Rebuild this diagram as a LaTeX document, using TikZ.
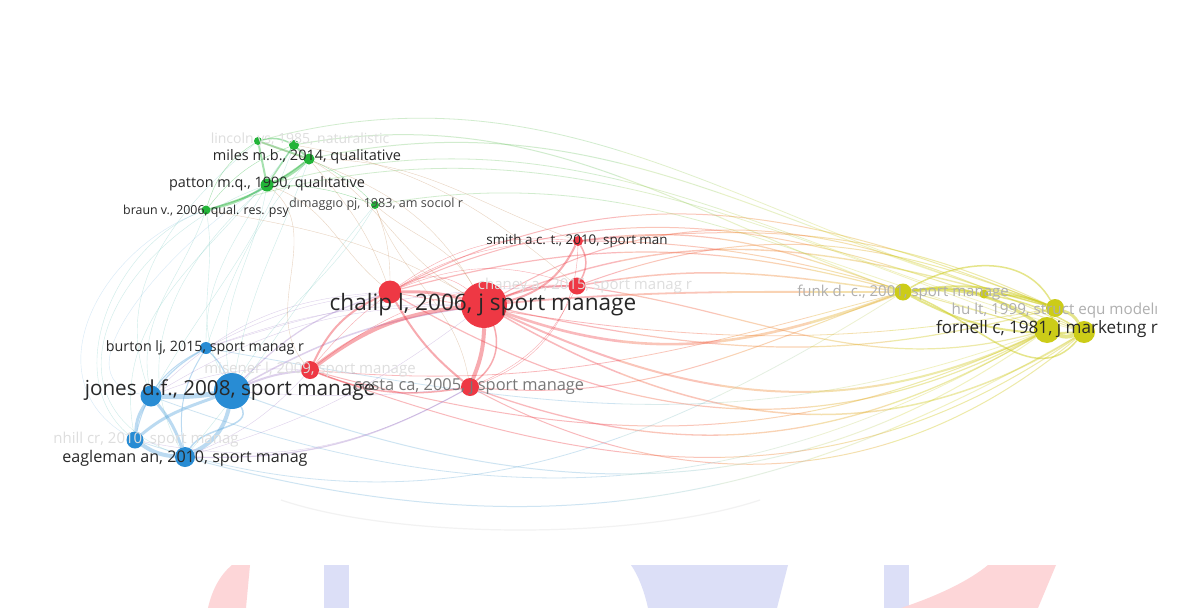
\documentclass[tikz,border=0pt]{standalone}
\usepackage{fontspec}
\setmainfont{Open Sans}
\definecolor{vred}{RGB}{238,56,68}
\definecolor{vblue}{RGB}{40,140,212}
\definecolor{vgreen}{RGB}{34,180,56}
\definecolor{vyel}{RGB}{204,204,24}
\definecolor{vpurple}{RGB}{150,110,195}
\definecolor{vteal}{RGB}{100,195,185}
\definecolor{volive}{RGB}{195,140,90}
\definecolor{tdark}{RGB}{40,40,40}
\definecolor{tmid}{RGB}{120,120,120}
\definecolor{tlight}{RGB}{175,175,175}
\definecolor{tfaint}{RGB}{222,222,222}
\definecolor{wmred}{RGB}{253,214,216}
\definecolor{wmblue}{RGB}{220,223,247}
% gradient bands red -> yellow
\definecolor{ry0}{RGB}{240,72,80}
\definecolor{ry1}{RGB}{242,105,72}
\definecolor{ry2}{RGB}{240,140,60}
\definecolor{ry3}{RGB}{228,176,46}
\definecolor{ry4}{RGB}{210,200,30}
% green -> yellow
\definecolor{gy0}{RGB}{90,190,80}
\definecolor{gy1}{RGB}{140,200,70}
\definecolor{gy2}{RGB}{175,205,55}
\definecolor{gy3}{RGB}{200,208,40}
\definecolor{gy4}{RGB}{206,206,30}
% blue -> yellow
\definecolor{by0}{RGB}{80,160,210}
\definecolor{by1}{RGB}{120,185,190}
\definecolor{by2}{RGB}{160,200,150}
\definecolor{by3}{RGB}{190,205,90}
\definecolor{by4}{RGB}{206,206,30}
\pgfdeclarelayer{bg}
\pgfdeclarelayer{edges}
\pgfsetlayers{bg,edges,main}
\newcommand\RYpaths[1]{%
 \begin{scope}[draw=#1, opacity=0.38]
  \draw[line width=2.6] (r1) to[out=-20,in=200] (y1);
  \draw[line width=1.8] (r1) to[out=5,in=180] (y1);
  \draw[line width=2] (r1) to[out=-25,in=205] (y4);
  \draw[line width=1.5] (r1) to[out=-30,in=212] (y5);
  \draw[line width=1.4] (r1) to[out=22,in=165] (y3);
  \draw[line width=1.2] (r1) to[out=-12,in=195] (y3);
  \draw[line width=1] (r1) to[out=30,in=155] (y5);
  \draw[line width=1.2] (r2) to[out=-30,in=208] (y4);
  \draw[line width=1.2] (r2) to[out=15,in=165] (y1);
  \draw[line width=1] (r2) to[out=25,in=160] (y5);
  \draw[line width=1] (r2) to[out=28,in=158] (y3);
  \draw[line width=1.5] (r4) to[out=10,in=172] (y1);
  \draw[line width=1.2] (r4) to[out=-8,in=195] (y4);
  \draw[line width=1] (r4) to[out=20,in=158] (y3);
  \draw[line width=1] (r3) to[out=5,in=155] (y3);
  \draw[line width=1.2] (r3) to[out=8,in=160] (y1);
  \draw[line width=1] (r3) to[out=0,in=165] (y4);
  \draw[line width=1.3] (r6) to[out=-20,in=210] (y4);
  \draw[line width=1] (r6) to[out=-28,in=220] (y5);
  \draw[line width=1] (r6) to[out=-5,in=200] (y1);
  \draw[line width=1] (r5) to[out=-20,in=215] (y5);
  \draw[line width=1] (r5) to[out=-15,in=205] (y4);
  \draw[line width=0.8] (r5) to[out=-5,in=195] (y1);
  \draw[line width=0.8] (r2) to[out=-10,in=190] (y3);
 \end{scope}}
\newcommand\GYpaths[1]{%
 \begin{scope}[draw=#1, opacity=0.28]
  \draw[line width=1] (g3) to[out=12,in=165] (y3);
  \draw[line width=1] (g2) to[out=10,in=160] (y1);
  \draw[line width=0.8] (g6) to[out=10,in=165] (y4);
  \draw[line width=0.8] (g4) to[out=15,in=165] (y5);
  \draw[line width=0.8] (g5) to[out=18,in=160] (y4);
  \draw[line width=0.8] (g1) to[out=15,in=165] (y3);
 \end{scope}}
\newcommand\BYpaths[1]{%
 \begin{scope}[draw=#1, opacity=0.28]
  \draw[line width=1] (b1) to[out=-20,in=215] (y4);
  \draw[line width=1] (b5) to[out=-15,in=210] (y5);
  \draw[line width=0.8] (b2) to[out=-20,in=210] (y4);
  \draw[line width=0.8] (b4) to[out=-18,in=212] (y1);
  \draw[line width=0.8] (b3) to[out=-10,in=200] (y4);
 \end{scope}}
\begin{document}
\begin{tikzpicture}[x=1pt,y=1pt,
  vn/.style={circle, fill=#1, inner sep=0pt, draw=none},
  lab/.style={font=\fontsize{#1}{#1}\selectfont, inner sep=0pt, anchor=center},
  er/.style={draw=vred, opacity=0.42},
  eb/.style={draw=vblue!75, opacity=0.42},
  eg/.style={draw=vgreen, opacity=0.4},
  ey/.style={draw=vyel, opacity=0.5},
  ep/.style={draw=vpurple, opacity=0.32},
  et/.style={draw=vteal, opacity=0.32},
  eol/.style={draw=volive, opacity=0.38},
  line width=0.8pt]
\begin{pgfonlayer}{bg}
\fill[white] (0,0) rectangle (1192,-608);
% watermark fragments at the bottom
\fill[wmred] (232,-565) -- (250,-565) -- (246,-608) -- (208,-608) .. controls (212,-590) and (220,-575) .. cycle;
\fill[wmblue] (324,-565) rectangle (349,-608);
\fill[wmblue] (631,-565) -- (788,-565) -- (777,-608) -- (648,-608) .. controls (644,-590) and (638,-575) .. cycle;
\fill[wmblue] (884,-565) rectangle (909,-608);
\fill[wmred] (988,-565) -- (1056,-565) -- (1038,-608) -- (901,-608) .. controls (940,-595) and (970,-580) .. cycle;
\draw[black!5, line width=1.2] (281,-500) .. controls (400,-540) and (640,-540) .. (760,-500);
\end{pgfonlayer}
\useasboundingbox (0,0) rectangle (1192,-608);

% ---------- nodes ----------
% red
\node[vn=vred, minimum size=46] (r1) at (484,-305) {};
\node[vn=vred, minimum size=23] (r2) at (390,-292) {};
\node[vn=vred, minimum size=10] (r3) at (578,-241) {};
\node[vn=vred, minimum size=17] (r4) at (577,-286) {};
\node[vn=vred, minimum size=18] (r5) at (310,-370) {};
\node[vn=vred, minimum size=18] (r6) at (470,-387) {};
% blue
\node[vn=vblue, minimum size=36] (b1) at (232,-391) {};
\node[vn=vblue, minimum size=21] (b2) at (151,-396) {};
\node[vn=vblue, minimum size=12] (b3) at (206,-348) {};
\node[vn=vblue, minimum size=17] (b4) at (135,-440) {};
\node[vn=vblue, minimum size=20] (b5) at (185,-457) {};
% green
\node[vn=vgreen, minimum size=8] (g1) at (258,-141) {};
\node[vn=vgreen, minimum size=10] (g2) at (294,-145) {};
\node[vn=vgreen, minimum size=11] (g3) at (309,-159) {};
\node[vn=vgreen, minimum size=13] (g4) at (267,-185) {};
\node[vn=vgreen, minimum size=9] (g5) at (206,-210) {};
\node[vn=vgreen, minimum size=8] (g6) at (375,-205) {};
% yellow
\node[vn=vyel, minimum size=17] (y1) at (903,-292) {};
\node[vn=vyel, minimum size=9] (y2) at (984,-294) {};
\node[vn=vyel, minimum size=18] (y3) at (1055,-308) {};
\node[vn=vyel, minimum size=26] (y4) at (1047,-330) {};
\node[vn=vyel, minimum size=22] (y5) at (1084,-332) {};

% ---------- edges ----------
\begin{pgfonlayer}{edges}
% long edges with colour gradient (bands)
\foreach \xa/\xb/\cr/\cg/\cb in {0/620/ry0/gy0/by0, 620/720/ry1/gy1/by1, 720/810/ry2/gy2/by2, 810/890/ry3/gy3/by3, 890/1192/ry4/gy4/by4}{
  \begin{scope}
    \clip (\xa,0) rectangle (\xb,-608);
    \RYpaths{\cr}
    \GYpaths{\cg}
    \BYpaths{\cb}
  \end{scope}
}
% blue internal
\draw[eb, line width=5] (b1) to[bend left=5] (b2);
\draw[eb, line width=4] (b1) to[bend left=25] (b5);
\draw[eb, line width=3] (b2) to[bend right=15] (b4);
\draw[eb, line width=4] (b4) to[bend right=15] (b5);
\draw[eb, line width=3] (b2) to[bend left=10] (b5);
\draw[eb, line width=3] (b4) to[out=40,in=200] (b1);
\draw[eb, line width=1.2] (b3) to[bend left=10] (b1);
\draw[eb, line width=1.2] (b3) to[bend right=10] (b2);
\draw[eb, line width=1] (b3) to[bend right=20] (b5);
\draw[eb, line width=1] (b3) to[bend right=25] (b4);
\draw[eb, line width=1.5] (b5) to[out=60,in=-60] (b1);
% blue - red
\draw[ep, line width=2] (b1) to[bend left=8] (r5);
\draw[ep, line width=1.5] (b1) to[bend left=10] (r1);
\draw[ep, line width=1.2] (b1) to[bend left=14] (r2);
\draw[ep] (b1) to[bend right=5] (r6);
\draw[ep] (b2) to[bend left=15] (r1);
\draw[ep] (b2) to[bend left=20] (r2);
\draw[ep, line width=1.2] (b5) to[bend right=15] (r6);
\draw[ep] (b5) to[bend right=10] (r1);
\draw[ep] (b5) to[bend right=12] (r5);
\draw[ep] (b4) to[bend right=20] (r6);
\draw[ep] (b3) to[bend left=10] (r2);
\draw[ep] (b3) to[bend left=10] (r1);
\draw[ep] (b2) to[bend left=12] (r5);
\draw[ep] (b3) to[bend left=8] (r4);
% red internal
\draw[er, line width=3] (r1) to[bend right=8] (r2);
\draw[er, line width=4] (r1) to[bend right=15] (r5);
\draw[er, line width=4] (r1) to[bend left=10] (r6);
\draw[er, line width=2] (r2) to[bend right=10] (r6);
\draw[er, line width=2] (r2) to[bend right=20] (r5);
\draw[er, line width=2] (r1) to[bend right=25] (r3);
\draw[er, line width=2] (r1) to[bend left=10] (r4);
\draw[er, line width=1.5] (r3) to[bend left=30] (r4);
\draw[er] (r2) to[bend left=20] (r4);
\draw[er] (r2) to[bend left=20] (r3);
\draw[er, line width=1.5] (r5) to[bend right=15] (r6);
\draw[er] (r6) to[bend right=20] (r4);
\draw[er] (r5) to[bend left=20] (r4);
\draw[er] (r5) to[bend left=25] (r3);
\draw[er] (r6) to[bend right=35] (r3);
\draw[er, line width=1.5] (r1) to[bend left=35] (r6);
\draw[er] (r2) to[bend left=35] (r1);
% yellow internal
\draw[ey, line width=3] (y1) to[bend left=20] (y4);
\draw[ey, line width=2] (y1) to[bend left=15] (y3);
\draw[ey, line width=2] (y1) to[bend left=10] (y2);
\draw[ey, line width=2] (y2) to[bend left=10] (y3);
\draw[ey, line width=3] (y3) to (y4);
\draw[ey, line width=3] (y3) to[bend left=20] (y5);
\draw[ey, line width=4] (y4) to[bend right=20] (y5);
\draw[ey, line width=2] (y1) to[bend right=15] (y5);
\draw[ey, line width=1.5] (y2) to[bend left=10] (y5);
\draw[ey, line width=1.5] (y1) to[out=-20,in=230] (y5);
\draw[ey, line width=1.5] (y1) to[out=30,in=120] (y3);
% green internal
\draw[eg, line width=2] (g1) to (g3);
\draw[eg, line width=2] (g2) to (g3);
\draw[eg, line width=2] (g1) to (g4);
\draw[eg, line width=3] (g3) to[bend left=10] (g4);
\draw[eg, line width=2] (g4) to[bend left=10] (g5);
\draw[eg, line width=1.5] (g3) to[bend left=10] (g5);
\draw[eg, line width=1.5] (g1) to[bend left=20] (g2);
\draw[eg, line width=1.5] (g2) to (g4);
\draw[eg] (g3) to[bend left=10] (g6);
\draw[eg] (g4) to[bend left=10] (g6);
\draw[eg] (g1) to[bend right=20] (g5);
\draw[eg] (g2) to[bend right=15] (g5);
% green - blue
\draw[et] (g5) to[out=250,in=100] (b2);
\draw[et] (g5) to[out=200,in=140] (b4);
\draw[et] (g4) to[out=260,in=100] (b1);
\draw[et] (g4) to[out=240,in=90] (b3);
\draw[et] (g3) to[out=250,in=80] (b1);
\draw[et] (g5) to[out=280,in=120] (b1);
\draw[et] (g4) to[out=220,in=120] (b5);
\draw[et] (g1) to[out=220,in=110] (b2);
\draw[et] (g3) to[out=230,in=70] (b3);
\draw[et] (g6) to[out=240,in=60] (b1);
\draw[et] (g2) to[out=250,in=60] (b2);
\draw[et] (g2) to[out=235,in=100] (b4);
\draw[et] (g6) to[out=230,in=50] (b5);
\draw[eb, opacity=0.25] (b4) to[out=150,in=200,looseness=1.2] (g5);
\draw[eb, opacity=0.25] (b2) to[out=170,in=210] (g4);
\draw[et] (b5) to[out=160,in=200,looseness=1.4] (g4);
% green - red
\draw[eol] (g3) to[out=-30,in=150] (r1);
\draw[eol] (g4) to[out=-20,in=140] (r2);
\draw[eol] (g6) to[out=-40,in=120] (r1);
\draw[eol] (g3) to[out=-50,in=110] (r2);
\draw[eol] (g6) to[bend left=10] (r2);
\draw[eol] (g3) to[out=0,in=160] (r3);
\draw[eol] (g6) to[out=-70,in=100] (r6);
\draw[eol] (g4) to[out=-40,in=130] (r5);
\draw[eol] (g1) to[out=-20,in=120] (r1);
\draw[eol] (g5) to[out=-10,in=150] (r1);
\draw[eol] (g2) to[out=-10,in=140] (r4);
\end{pgfonlayer}

% ---------- labels ----------
\node[lab=14, text=tfaint] (Lg2) at (300,-140) {lincoln ys, 1985, naturalistic};
\node[lab=15, text=tfaint] (Lr5) at (310,-370) {misener l, 2009, sport manage};
\node[lab=15, text=tfaint] (Lr4) at (585,-286) {chaney a., 2015, sport manag r};
\node[lab=15, text=tfaint] (Lb4) at (146,-440) {nhill cr, 2010, sport manag};
\node[lab=15, text=tlight] (Ly1) at (903,-293) {funk d. c., 2001, sport manage};
\node[lab=15.2, text=tlight] (Ly3) at (1055,-311) {hu lt, 1999, struct equ modelı};
\node[lab=17.1, text=tdark] (Ly4) at (1047,-329) {fornell c, 1981, j marketıng r};
\node[lab=22.6, text=tdark] (Lr1) at (483,-305) {chalip l, 2006, j sport manage};
\node[lab=20.7, text=tdark] (Lb1) at (230,-390) {jones d.f., 2008, sport manage};
\node[lab=14.5, text=tdark] (Lg3) at (307,-157) {miles m.b., 2014, qualitative};
\node[lab=14.4, text=tdark] (Lg4) at (267,-184) {patton m.q., 1990, qualıtatıve};
\node[lab=12.4, text=tdark] (Lg5) at (206,-211) {braun v., 2006, qual. res. psy};
\node[lab=12.6, text=tdark!85] (Lg6) at (376,-204) {dımaggıo pj, 1983, am socıol r};
\node[lab=13.4, text=tdark] (Lr3) at (577,-241) {smith a.c. t., 2010, sport man};
\node[lab=14.3, text=tdark] (Lb3) at (205,-348) {burton lj, 2015, sport manag r};
\node[lab=16.1, text=tdark] (Lb5) at (185,-458) {eagleman an, 2010, sport manag};
\node[lab=16.4, text=tmid] (Lr6) at (469,-386) {costa ca, 2005, j sport manage};
\end{tikzpicture}
\end{document}
